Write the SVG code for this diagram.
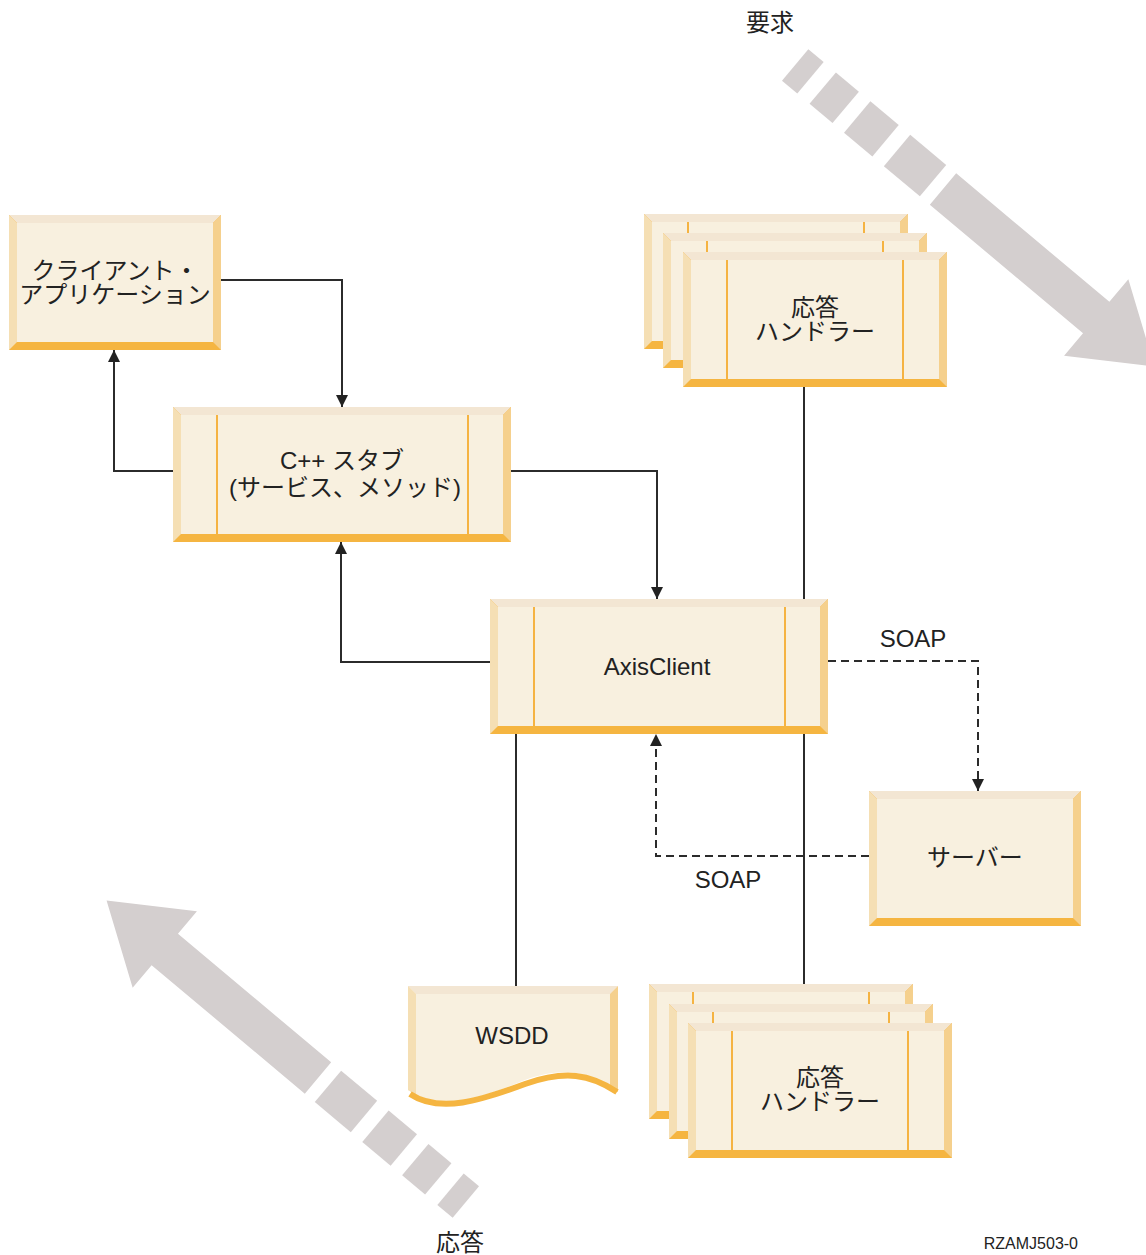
<svg xmlns="http://www.w3.org/2000/svg" xmlns:xlink="http://www.w3.org/1999/xlink" width="1146" height="1255" viewBox="0 0 1146 1255">
  <style>
    .bb { fill: #f5b541; }
    .bt { fill: #f3e6d3; }
    .bl { fill: #f5dfb4; }
    .br { fill: #f5d08d; }
    .face { fill: #f8f0df; }
    .div { stroke: #f5b342; stroke-width: 2; fill: none; }
    .flow { fill: #d4cfcf; }
    .lbl { font-family: "Liberation Sans", "Noto Sans CJK JP", sans-serif; font-size: 24px; fill: #222; text-anchor: middle; }
    .note { font-family: "Liberation Sans", Arial, sans-serif; font-size: 16px; fill: #222; text-anchor: end; }
    .conn { fill: none; stroke: #2b2b2b; stroke-width: 2; }
    .dash { stroke-dasharray: 8 5; }
  </style>
  <defs>
    <marker id="ah" viewBox="0 0 12 12" refX="12" refY="6" markerWidth="12" markerHeight="12" markerUnits="userSpaceOnUse" orient="auto">
      <path d="M0,0 L12,6 L0,12 Z" fill="#222"/>
    </marker>
    <!-- bevelled box, small -->
    <g id="box-s">
      <rect class="bb" x="0" y="0" width="212" height="135"/>
      <polygon class="bt" points="0,0 212,0 204,8 8,8"/>
      <polygon class="bl" points="0,0 8,8 8,127 0,135"/>
      <polygon class="br" points="212,0 212,135 204,127 204,8"/>
      <rect class="face" x="8" y="8" width="196" height="119"/>
    </g>
    <!-- bevelled box, wide, with side bars -->
    <g id="box-l">
      <rect class="bb" x="0" y="0" width="338" height="135"/>
      <polygon class="bt" points="0,0 338,0 330,8 8,8"/>
      <polygon class="bl" points="0,0 8,8 8,127 0,135"/>
      <polygon class="br" points="338,0 338,135 330,127 330,8"/>
      <rect class="face" x="8" y="8" width="322" height="119"/>
      <line class="div" x1="44" y1="8" x2="44" y2="127"/>
      <line class="div" x1="295" y1="8" x2="295" y2="127"/>
    </g>
    <!-- handler box, with side bars -->
    <g id="box-h">
      <rect class="bb" x="0" y="0" width="264" height="135"/>
      <polygon class="bt" points="0,0 264,0 256,8 8,8"/>
      <polygon class="bl" points="0,0 8,8 8,127 0,135"/>
      <polygon class="br" points="264,0 264,135 256,127 256,8"/>
      <rect class="face" x="8" y="8" width="248" height="119"/>
      <line class="div" x1="44" y1="8" x2="44" y2="127"/>
      <line class="div" x1="220" y1="8" x2="220" y2="127"/>
    </g>
    <!-- broad grey flow arrow: dashed tail, solid shaft, head -->
    <g id="flow-arrow" class="flow">
      <rect x="-193" y="-20.5" width="20" height="41"/>
      <rect x="-157" y="-20.5" width="30" height="41"/>
      <rect x="-112" y="-20.5" width="37" height="41"/>
      <rect x="-60" y="-20.5" width="47" height="41"/>
      <polygon points="0,-20.5 200,-20.5 200,-50 276,0 200,50 200,20.5 0,20.5"/>
    </g>
  </defs>

  <!-- request / response flows -->
  <g id="flow-request">
    <use xlink:href="#flow-arrow" transform="translate(943,189) rotate(40)"/>
    <text class="lbl" x="770" y="31">要求</text>
  </g>
  <g id="flow-response">
    <use xlink:href="#flow-arrow" transform="translate(318,1078) rotate(220)"/>
    <text class="lbl" x="460" y="1251">応答</text>
  </g>

  <!-- connectors -->
  <g id="connectors">
    <path class="conn" d="M221,280 H342 V407" marker-end="url(#ah)"/>
    <path class="conn" d="M173,471 H114 V350" marker-end="url(#ah)"/>
    <path class="conn" d="M511,471 H657 V599" marker-end="url(#ah)"/>
    <path class="conn" d="M490,662 H341 V542" marker-end="url(#ah)"/>
    <path class="conn dash" d="M828,661 H978 V791" marker-end="url(#ah)"/>
    <path class="conn dash" d="M869,856 H656 V734" marker-end="url(#ah)"/>
    <path class="conn" d="M804,387 V984"/>
    <path class="conn" d="M516,734 V986"/>
    <text class="lbl" x="913" y="647">SOAP</text>
    <text class="lbl" x="728" y="888">SOAP</text>
  </g>

  <g id="client-app">
    <use xlink:href="#box-s" x="9" y="215"/>
    <text class="lbl" x="115" y="279"><tspan x="115">クライアント・</tspan><tspan x="115" dy="24">アプリケーション</tspan></text>
  </g>

  <g id="cpp-stub">
    <use xlink:href="#box-l" x="173" y="407"/>
    <text class="lbl" x="342" y="469"><tspan x="342">C++ スタブ</tspan><tspan x="345" dy="27">(サービス、メソッド)</tspan></text>
  </g>

  <g id="axis-client">
    <use xlink:href="#box-l" x="490" y="599"/>
    <text class="lbl" x="657" y="675">AxisClient</text>
  </g>

  <g id="server">
    <use xlink:href="#box-s" x="869" y="791"/>
    <text class="lbl" x="975" y="866">サーバー</text>
  </g>

  <g id="request-handlers">
    <use xlink:href="#box-h" x="644" y="214"/>
    <use xlink:href="#box-h" x="663" y="233"/>
    <use xlink:href="#box-h" x="683" y="252"/>
    <text class="lbl" x="815" y="316"><tspan x="815">応答</tspan><tspan x="815" dy="24">ハンドラー</tspan></text>
  </g>

  <g id="response-handlers">
    <use xlink:href="#box-h" x="649" y="984"/>
    <use xlink:href="#box-h" x="669" y="1004"/>
    <use xlink:href="#box-h" x="688" y="1023"/>
    <text class="lbl" x="820" y="1086"><tspan x="820">応答</tspan><tspan x="820" dy="24">ハンドラー</tspan></text>
  </g>

  <g id="wsdd">
    <path class="face" d="M408,986 H618 V1092 C590,1072 565,1066 525,1080 C480,1098 440,1112 408,1090 Z"/>
    <polygon class="bt" points="408,986 618,986 610,994 416,994"/>
    <polygon class="bl" points="408,986 416,994 416,1095 408,1090"/>
    <polygon class="br" points="618,986 618,1092 610,1086 610,994"/>
    <path d="M410,1094 C440,1114 482,1100 525,1084 C565,1070 590,1074 617,1092" fill="none" stroke="#f5b541" stroke-width="6"/>
    <text class="lbl" x="512" y="1044">WSDD</text>
  </g>

  <text class="note" x="1078" y="1249">RZAMJ503-0</text>
</svg>
